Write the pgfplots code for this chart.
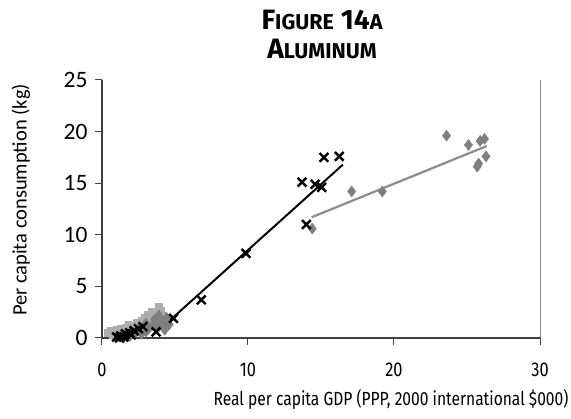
\documentclass[border=0pt]{standalone}
\usepackage{pgfplots}
\pgfplotsset{compat=1.18}
\usepackage{fontspec}
\setmainfont{Carlito}
\newfontfamily\offi[FakeStretch=0.82]{Fira Sans}
\newfontfamily\offt{Fira Sans}
\usetikzlibrary{calc}
\definecolor{lsq}{HTML}{ADADAD}
\definecolor{mdi}{HTML}{7F7F7F}
\definecolor{gln}{HTML}{8C8C8C}
\begin{document}
\begin{tikzpicture}
\begin{axis}[
  scale only axis, width=438pt, height=258pt,
  xmin=0, xmax=30, ymin=0, ymax=25,
  axis x line*=bottom, axis y line*=left,
  xtick={0,10,20,30}, ytick={0,5,10,15,20,25},
  tick align=outside, major tick length=7pt,
  tick style={color=black!75, line width=1pt},
  axis line style={black!75, line width=1.2pt},
  x tick label style={font=\offi\fontsize{20}{20}\selectfont, yshift=-14pt},
  y tick label style={font=\fontsize{23.5}{23.5}\selectfont, xshift=-4pt},
  /pgf/number format/assume math mode=true,
  clip=false,
]
% low-income cluster, light grey squares
\addplot[only marks, mark=square*, mark size=3.4pt, color=lsq] coordinates {
(0.4,0.5)(0.6,0.7)(0.8,0.6)(1.0,0.8)(1.3,0.9)(1.6,1.0)(1.8,1.3)(2.1,1.2)
(2.4,1.5)(2.7,1.7)(2.9,2.0)(3.1,2.3)(3.4,2.6)(3.7,2.5)(3.9,3.0)(4.0,2.7)
(2.2,0.9)(1.5,0.6)(3.3,1.9)(0.7,0.3)(1.2,0.5)(2.6,1.2)(3.6,2.0)(3.0,1.6)
};
% grey diamonds
\addplot[only marks, mark=diamond*, mark size=5.5pt, color=mdi] coordinates {
(1.5,0.3)(1.9,0.2)(2.3,0.5)(2.7,0.4)(3.0,0.6)(3.2,0.9)(3.5,1.2)(3.8,1.0)
(4.1,1.5)(4.4,2.0)(3.6,1.8)(3.0,1.4)(2.5,0.9)(2.0,0.6)(4.6,1.3)(3.9,2.2)(4.3,0.8)
(14.4,10.6)(17.1,14.2)(19.2,14.2)(23.6,19.6)(25.1,18.7)(25.7,16.6)(25.8,16.9)
(25.9,19.1)(26.2,19.3)(26.3,17.6)
};
% black crosses
\addplot[only marks, mark=x, mark size=6.2pt, color=black, mark options={line width=2.4pt}] coordinates {
(1.0,0.1)(1.3,0.2)(1.6,0.4)(1.9,0.5)(2.2,0.7)(2.5,0.9)(2.8,1.1)(1.2,0.0)(1.5,0.1)(2.0,0.3)
(3.7,0.6)(4.9,1.9)(6.8,3.7)(9.86,8.2)(13.7,15.1)(14.6,14.9)(15.05,14.6)(14.0,11.0)
(15.2,17.5)(16.25,17.6)
};
% trend lines
\addplot[black, line width=3.5pt] coordinates {(0.9,0.05)(3.0,1.1)};
\addplot[black, line width=2pt] coordinates {(3.7,0.5)(16.5,16.8)};
\addplot[gln, line width=2.2pt] coordinates {(14.36,11.7)(26.35,18.6)};
\draw[black!45, line width=1pt] (axis cs:30,0) -- (axis cs:30,25);
\end{axis}
\node[font=\offt\bfseries] at ($(current axis.origin)+(220pt,318pt)$)
  {{\fontsize{28}{28}\selectfont F}{\fontsize{21.5}{21.5}\selectfont IGURE}\hspace{7pt}{\fontsize{28}{28}\selectfont 14}{\fontsize{21.5}{21.5}\selectfont A}};
\node[font=\offt\bfseries] at ($(current axis.origin)+(220pt,289pt)$)
  {{\fontsize{28}{28}\selectfont A}{\fontsize{21.5}{21.5}\selectfont LUMINUM}};
\node[rotate=90, font=\fontsize{20.5}{20.5}\selectfont] at ($(current axis.origin)+(-81pt,138pt)$)
  {Per capita consumption (kg)};
\node[font=\offi\fontsize{19}{19}\selectfont] at ($(current axis.origin)+(289pt,-62pt)$)
  {Real per capita GDP (PPP, 2000 international \$000)};
\pgfresetboundingbox
\useasboundingbox ($(current axis.origin)+(-102pt,-81pt)$) rectangle ($(current axis.origin)+(469pt,338pt)$);
\end{tikzpicture}
\end{document}
